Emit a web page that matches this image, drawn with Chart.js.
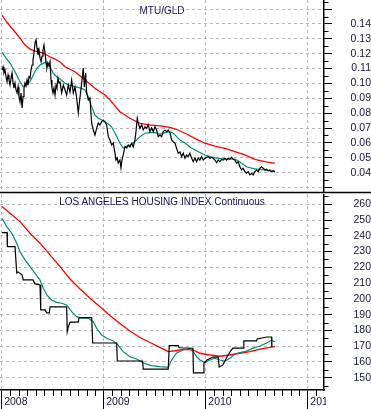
<!DOCTYPE html>
<html><head><meta charset="utf-8">
<script src="https://cdn.jsdelivr.net/npm/chart.js@4/dist/chart.umd.min.js"></script>
<style>
html,body{margin:0;padding:0;background:#fff;overflow:hidden}
#wrap{position:relative;width:371px;height:409px;background:#fff}
#topBox{position:absolute;left:0;top:0;width:371px;height:194px}
#botBox{position:absolute;left:0;top:194px;width:371px;height:215px}
.ttl{position:absolute;left:0;width:324px;text-align:center;font-family:"Liberation Sans",Arial,sans-serif;font-size:10px;line-height:10px;color:#15155a;white-space:nowrap}
</style></head><body>
<div id="wrap">
<div id="topBox"><canvas id="c1" width="371" height="194"></canvas></div>
<div id="botBox"><canvas id="c2" width="371" height="215"></canvas></div>
<div class="ttl" style="top:6px">MTU/GLD</div>
<div class="ttl" style="top:197px">LOS ANGELES HOUSING INDEX Continuous</div>
</div>
<script>
// ---------- x axis (decimal years) ----------
const yearTicks = [2008, 2009, 2010, 2011];
const yearLabels = ['2008', '2009', '2010', '2011'];

// ---------- MTU/GLD ratio ----------
const mtuDates = [2008.004,2008.014,2008.023,2008.033,2008.043,2008.053,2008.063,2008.072,2008.082,2008.092,2008.102,2008.112,2008.121,2008.131,2008.141,2008.151,2008.161,2008.170,2008.180,2008.190,2008.200,2008.210,2008.219,2008.229,2008.239,2008.249,2008.258,2008.268,2008.278,2008.288,2008.298,2008.307,2008.317,2008.327,2008.337,2008.347,2008.356,2008.366,2008.376,2008.386,2008.396,2008.405,2008.415,2008.425,2008.435,2008.444,2008.454,2008.464,2008.474,2008.484,2008.493,2008.503,2008.513,2008.523,2008.533,2008.542,2008.552,2008.562,2008.572,2008.588,2008.604,2008.621,2008.637,2008.653,2008.670,2008.686,2008.702,2008.719,2008.735,2008.751,2008.768,2008.784,2008.800,2008.810,2008.823,2008.833,2008.849,2008.865,2008.882,2008.898,2008.914,2008.931,2008.947,2008.963,2008.980,2008.996,2009.012,2009.029,2009.045,2009.061,2009.078,2009.094,2009.110,2009.120,2009.133,2009.142,2009.159,2009.169,2009.179,2009.191,2009.208,2009.225,2009.240,2009.257,2009.274,2009.289,2009.306,2009.316,2009.329,2009.338,2009.355,2009.372,2009.387,2009.404,2009.421,2009.436,2009.453,2009.470,2009.485,2009.502,2009.518,2009.534,2009.551,2009.567,2009.583,2009.600,2009.616,2009.632,2009.649,2009.665,2009.681,2009.698,2009.714,2009.730,2009.747,2009.763,2009.779,2009.796,2009.812,2009.828,2009.844,2009.861,2009.877,2009.894,2009.910,2009.926,2009.942,2009.959,2009.975,2009.991,2010.008,2010.024,2010.040,2010.057,2010.073,2010.089,2010.106,2010.121,2010.138,2010.155,2010.170,2010.187,2010.204,2010.219,2010.236,2010.253,2010.268,2010.285,2010.302,2010.317,2010.334,2010.350,2010.366,2010.383,2010.399,2010.415,2010.432,2010.449,2010.464,2010.481,2010.497,2010.513,2010.530,2010.546,2010.562,2010.579,2010.595,2010.611,2010.628,2010.644,2010.660,2010.677];
const mtuValues = [0.1090,0.1112,0.1070,0.1090,0.1045,0.1012,0.1057,0.1023,0.0989,0.1036,0.1070,0.1003,0.0969,0.1003,0.0956,0.0936,0.0978,0.0911,0.0877,0.0936,0.0835,0.0911,0.0969,0.1003,0.0983,0.1023,0.0989,0.1045,0.1036,0.1090,0.1124,0.1157,0.1204,0.1272,0.1292,0.1238,0.1191,0.1225,0.1171,0.1146,0.1184,0.1225,0.1258,0.1204,0.1137,0.1104,0.1137,0.1117,0.1146,0.1023,0.0969,0.0936,0.0969,0.0922,0.0989,0.0969,0.1036,0.1003,0.1009,0.0936,0.0989,0.0956,0.0922,0.0989,0.0942,0.1023,0.0936,0.0976,0.0902,0.0801,0.0909,0.1003,0.1104,0.0976,0.1070,0.0936,0.0889,0.0902,0.0734,0.0687,0.0653,0.0700,0.0734,0.0721,0.0743,0.0754,0.0741,0.0721,0.0642,0.0620,0.0586,0.0600,0.0532,0.0485,0.0499,0.0465,0.0485,0.0432,0.0485,0.0519,0.0575,0.0566,0.0586,0.0573,0.0598,0.0573,0.0620,0.0676,0.0766,0.0734,0.0698,0.0721,0.0687,0.0707,0.0698,0.0721,0.0676,0.0700,0.0676,0.0709,0.0687,0.0642,0.0653,0.0642,0.0676,0.0687,0.0676,0.0687,0.0667,0.0620,0.0608,0.0598,0.0564,0.0530,0.0539,0.0508,0.0532,0.0497,0.0519,0.0508,0.0530,0.0499,0.0474,0.0499,0.0474,0.0499,0.0485,0.0508,0.0485,0.0497,0.0503,0.0508,0.0497,0.0503,0.0497,0.0485,0.0467,0.0485,0.0474,0.0490,0.0485,0.0497,0.0485,0.0497,0.0490,0.0503,0.0490,0.0485,0.0463,0.0474,0.0440,0.0418,0.0430,0.0407,0.0396,0.0407,0.0385,0.0396,0.0385,0.0407,0.0418,0.0407,0.0430,0.0440,0.0430,0.0418,0.0423,0.0413,0.0418,0.0407,0.0413,0.0407];

const mtuShortDates = [2008.004,2008.033,2008.082,2008.131,2008.180,2008.212,2008.246,2008.278,2008.310,2008.344,2008.376,2008.408,2008.442,2008.474,2008.506,2008.539,2008.572,2008.621,2008.670,2008.719,2008.784,2008.816,2008.849,2008.882,2008.914,2008.947,2008.980,2009.012,2009.045,2009.078,2009.110,2009.159,2009.191,2009.225,2009.257,2009.306,2009.355,2009.404,2009.453,2009.502,2009.551,2009.600,2009.649,2009.681,2009.714,2009.747,2009.796,2009.844,2009.894,2009.991,2010.089,2010.187,2010.285,2010.334,2010.402,2010.481,2010.579,2010.677];
const mtuShortValues = [0.1211,0.1180,0.1137,0.1079,0.1012,0.0978,0.0989,0.1012,0.1057,0.1102,0.1124,0.1135,0.1146,0.1112,0.1068,0.1045,0.1030,0.1001,0.0986,0.0978,0.0967,0.0956,0.0911,0.0844,0.0788,0.0766,0.0754,0.0743,0.0727,0.0707,0.0667,0.0598,0.0564,0.0575,0.0586,0.0608,0.0642,0.0665,0.0669,0.0669,0.0660,0.0669,0.0676,0.0665,0.0642,0.0620,0.0600,0.0573,0.0553,0.0519,0.0499,0.0492,0.0492,0.0472,0.0438,0.0425,0.0418,0.0405];

const mtuLongDates = [2008.004,2008.043,2008.082,2008.131,2008.180,2008.229,2008.278,2008.327,2008.376,2008.425,2008.474,2008.523,2008.572,2008.621,2008.719,2008.816,2008.914,2009.012,2009.061,2009.159,2009.257,2009.355,2009.453,2009.551,2009.649,2009.727,2009.796,2009.894,2009.991,2010.089,2010.187,2010.285,2010.383,2010.481,2010.579,2010.677];
const mtuLongValues = [0.1460,0.1419,0.1386,0.1346,0.1305,0.1258,0.1231,0.1218,0.1211,0.1198,0.1178,0.1164,0.1144,0.1112,0.1079,0.1023,0.0967,0.0922,0.0889,0.0810,0.0766,0.0732,0.0721,0.0714,0.0705,0.0687,0.0665,0.0631,0.0598,0.0579,0.0564,0.0541,0.0519,0.0490,0.0474,0.0463];

const mtuTickValues = [0.03,0.04,0.05,0.06,0.07,0.08,0.09,0.10,0.11,0.12,0.13,0.14,0.15];
const mtuTickLabels = ['','0.04','0.05','0.06','0.07','0.08','0.09','0.10','0.11','0.12','0.13','0.14',''];

// ---------- Los Angeles housing index ----------
const laDates = [2008.004,2008.053,2008.056,2008.131,2008.148,2008.161,2008.200,2008.212,2008.307,2008.327,2008.376,2008.383,2008.425,2008.442,2008.467,2008.474,2008.637,2008.643,2008.653,2008.670,2008.751,2008.758,2008.882,2008.892,2009.127,2009.133,2009.381,2009.387,2009.632,2009.642,2009.730,2009.740,2009.874,2009.879,2009.975,2009.982,2010.011,2010.070,2010.122,2010.131,2010.168,2010.207,2010.236,2010.265,2010.366,2010.373,2010.497,2010.503,2010.598,2010.644,2010.647];
const laValues = [242.0,242.0,233.1,233.1,216.4,217.1,215.2,212.0,212.0,209.5,208.8,193.0,193.0,191.1,191.1,194.9,194.9,179.2,182.2,185.3,185.3,188.1,188.1,172.0,172.0,160.6,160.6,155.5,155.5,170.3,170.3,169.0,168.7,153.0,153.0,159.3,161.2,163.1,163.1,156.8,158.1,163.1,166.3,168.8,168.8,173.3,173.3,174.6,175.8,175.8,169.5];

const laShortDates = [2008.004,2008.050,2008.099,2008.148,2008.180,2008.229,2008.278,2008.327,2008.376,2008.408,2008.442,2008.490,2008.539,2008.588,2008.637,2008.686,2008.735,2008.784,2008.849,2008.898,2008.931,2008.980,2009.029,2009.094,2009.142,2009.191,2009.257,2009.323,2009.387,2009.470,2009.551,2009.632,2009.665,2009.714,2009.779,2009.844,2009.877,2009.910,2009.942,2009.991,2010.040,2010.089,2010.138,2010.187,2010.236,2010.285,2010.334,2010.399,2010.464,2010.530,2010.595,2010.644,2010.677];
const laShortValues = [251.1,245.8,241.6,235.3,229.9,224.7,220.4,216.2,212.0,206.7,202.5,199.3,197.8,197.2,196.1,191.9,188.7,187.7,187.7,185.5,181.3,177.1,175.0,173.3,170.7,166.5,163.3,161.9,159.3,157.7,157.0,156.5,161.2,165.7,167.6,168.5,166.5,163.3,161.2,159.6,161.2,162.3,161.2,160.4,162.3,165.0,166.0,166.9,168.8,170.1,172.0,173.7,172.8];

const laLongDates = [2008.004,2008.082,2008.180,2008.278,2008.376,2008.474,2008.572,2008.670,2008.768,2008.866,2008.963,2009.061,2009.159,2009.257,2009.355,2009.453,2009.551,2009.632,2009.698,2009.779,2009.877,2009.942,2010.040,2010.138,2010.236,2010.334,2010.432,2010.530,2010.628,2010.677];
const laLongValues = [258.5,254.3,249.0,241.6,235.3,227.9,220.4,212.6,206.3,200.4,195.0,189.5,184.4,179.6,175.5,172.3,169.2,166.5,167.1,168.0,167.6,165.5,164.4,163.6,164.4,165.5,166.5,168.1,169.3,169.7];

const laTickValues = [150,160,170,180,190,200,210,220,230,240,250,260];
const laTickLabels = ['150','160','170','180','190','200','210','220','230','240','250','260'];

// ---------- shared styling ----------
const GRID = '#b9b9b9';
const TXT = '#14143c';
const FONT = {family: '"Liberation Sans", Arial, sans-serif', size: 10.5};
const X_MIN = 2007.984, X_MAX = 2011.158;

function pts(xs, ys) { return xs.map((x, i) => ({x: x, y: ys[i]})); }

function xScale(show) {
  return {
    type: 'linear', min: X_MIN, max: X_MAX,
    afterBuildTicks: s => { s.ticks = yearTicks.map(v => ({value: v})); },
    afterFit: s => { s.height = show ? 19 : 0; s.paddingLeft = 0; s.paddingRight = 0; },
    grid: {color: GRID, lineWidth: 1, drawTicks: show, tickLength: 19, tickColor: '#000', tickWidth: 1, tickBorderDash: []},
    border: {display: show, color: '#000', width: 1.5, dash: [3, 3]},
    ticks: {display: show, autoSkip: false, maxRotation: 0, align: 'start', labelOffset: 2.5, padding: -13,
            font: FONT, color: TXT, callback: (v, i) => yearLabels[i]}
  };
}
function yScale(min, max, vals, labels, pad) {
  return {
    type: 'linear', position: 'right', min: min, max: max,
    afterBuildTicks: s => { s.ticks = vals.map(v => ({value: v})); },
    afterFit: s => { s.width = 47; s.paddingTop = 0; s.paddingBottom = 0; },
    grid: {color: GRID, lineWidth: 1, tickLength: 8, tickColor: '#000', tickWidth: 1, tickBorderDash: []},
    border: {display: true, color: '#000', width: 1.5, dash: [3, 3]},
    ticks: {autoSkip: false, crossAlign: 'far', padding: pad, font: FONT, color: TXT,
            callback: (v, i) => labels[i]}
  };
}

const extras = {
  id: 'extras',
  beforeDraw(chart, args, o) {
    const s = chart.scales.x;
    if (!s._clipPatched) {
      const orig = s.drawLabels;
      s.drawLabels = function (area) {
        const c = this.ctx; c.save(); c.beginPath();
        c.rect(0, 0, chart.chartArea.right + 2, chart.height); c.clip();
        orig.call(this, area); c.restore();
      };
      s._clipPatched = true;
    }
  },
  afterDraw(chart, args, o) {
    const ctx = chart.ctx, a = chart.chartArea, y = chart.scales.y, x = chart.scales.x;
    ctx.save();
    ctx.strokeStyle = '#000'; ctx.lineWidth = 1; ctx.setLineDash([]);
    ctx.beginPath();
    const vals = y.ticks.map(t => t.value);
    const step = vals[1] - vals[0];
    for (let k = -1; k < vals.length + 1; k++) {
      const v = vals[0] + step * (k + 0.5);
      if (v < y.min || v > y.max) continue;
      const p = Math.round(y.getPixelForValue(v)) + 0.5;
      ctx.moveTo(a.right, p); ctx.lineTo(a.right + 4.5, p);
    }
    if (o.months) {
      for (let yr = Math.floor(x.min); yr < x.max; yr++) {
        for (let m = 1; m < 12; m++) {
          const v = yr + m / 12;
          if (v < x.min || v > x.max) continue;
          const px = Math.round(x.getPixelForValue(v)) + 0.5;
          ctx.moveTo(px, a.bottom); ctx.lineTo(px, a.bottom + 6);
        }
      }
    }
    ctx.stroke();
    if (o.divider) {
      ctx.lineWidth = 1.5;
      ctx.beginPath(); ctx.moveTo(0, a.bottom + 0.5); ctx.lineTo(chart.width, a.bottom + 0.5); ctx.stroke();
    }
    ctx.restore();
  }
};
Chart.register(extras);

function lineDs(data, color, w) {
  return {data: data, borderColor: color, borderWidth: w, pointRadius: 0, tension: 0, fill: false};
}

const common = {
  responsive: false, animation: false, devicePixelRatio: 1, events: [],
  plugins: {legend: {display: false}, tooltip: {enabled: false}, title: {display: false}}
};

new Chart(document.getElementById('c1'), {
  type: 'line',
  data: {datasets: [
    lineDs(pts(mtuDates, mtuValues), '#000000', 1.2),
    lineDs(pts(mtuShortDates, mtuShortValues), '#008a7a', 1.2),
    lineDs(pts(mtuLongDates, mtuLongValues), '#ff0000', 1.3)
  ]},
  options: Object.assign({}, common, {
    layout: {padding: {left: 0, right: 0, top: 0, bottom: 2}},
    plugins: Object.assign({}, common.plugins, {extras: {months: false, divider: true}}),
    scales: {
      x: xScale(false),
      y: yScale(0.0270, 0.1561, mtuTickValues, mtuTickLabels, 14.6)
    }
  })
});

new Chart(document.getElementById('c2'), {
  type: 'line',
  data: {datasets: [
    lineDs(pts(laDates, laValues), '#000000', 1.2),
    lineDs(pts(laShortDates, laShortValues), '#008a7a', 1.2),
    lineDs(pts(laLongDates, laLongValues), '#ff0000', 1.3)
  ]},
  options: Object.assign({}, common, {
    layout: {padding: 0},
    plugins: Object.assign({}, common.plugins, {extras: {months: true, divider: false}}),
    scales: {
      x: xScale(true),
      y: yScale(142.2, 266.5, laTickValues, laTickLabels, 17.5)
    }
  })
});
</script>
</body></html>
